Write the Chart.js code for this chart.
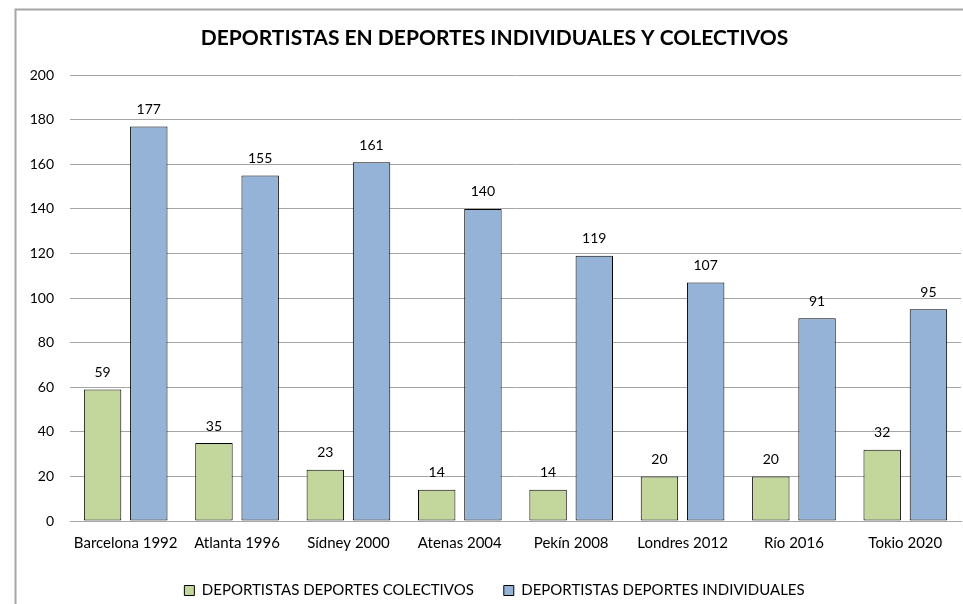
<!DOCTYPE html>
<html>
<head>
<meta charset="utf-8">
<script src="https://cdn.jsdelivr.net/npm/chart.js@4"></script>
<style>
  html, body { margin: 0; padding: 0; background: #fff; }
  #wrap { width: 963px; height: 604px; position: relative; }
</style>
</head>
<body>
<div id="wrap"><canvas id="chart" width="963" height="604"></canvas></div>
<script>
const categories = ['Barcelona 1992', 'Atlanta 1996', 'Sídney 2000', 'Atenas 2004', 'Pekín 2008', 'Londres 2012', 'Río 2016', 'Tokio 2020'];
const colectivos = [59, 35, 23, 14, 14, 20, 20, 32];
const individuales = [177, 155, 161, 140, 119, 107, 91, 95];
const yTicks = [0, 20, 40, 60, 80, 100, 120, 140, 160, 180, 200];

const FONT = 'Lato, sans-serif';

// gray frame around the chart (the excel chart box, cut at the right and bottom)
const frame = {
  id: 'frame',
  beforeDraw(chart) {
    const ctx = chart.ctx;
    ctx.save();
    ctx.fillStyle = '#fff';
    ctx.fillRect(0, 0, chart.width, chart.height);
    ctx.strokeStyle = '#a6a6a6';
    ctx.lineWidth = 2;
    ctx.strokeRect(15.5, 9.5, 1200, 800);
    ctx.restore();
  }
};

// value labels over every bar
const valueLabels = {
  id: 'valueLabels',
  afterDatasetsDraw(chart) {
    const ctx = chart.ctx;
    ctx.save();
    ctx.font = '14px ' + FONT;
    ctx.fillStyle = '#000';
    ctx.textAlign = 'center';
    ctx.textBaseline = 'middle';
    chart.data.datasets.forEach((ds, i) => {
      chart.getDatasetMeta(i).data.forEach((bar, j) => {
        ctx.fillText(ds.data[j], bar.x, bar.y - 17);
      });
    });
    ctx.restore();
  }
};

new Chart(document.getElementById('chart'), {
  type: 'bar',
  data: {
    labels: categories,
    datasets: [
      {
        label: 'DEPORTISTAS DEPORTES COLECTIVOS',
        data: colectivos,
        backgroundColor: '#c3d69b',
        borderColor: '#000',
        borderWidth: 1,
        borderSkipped: false
      },
      {
        label: 'DEPORTISTAS DEPORTES INDIVIDUALES',
        data: individuales,
        backgroundColor: '#95b3d7',
        borderColor: '#000',
        borderWidth: 1,
        borderSkipped: false
      }
    ]
  },
  options: {
    responsive: false,
    animation: false,
    devicePixelRatio: 1,
    categoryPercentage: 0.83,
    barPercentage: 0.81,
    layout: { padding: { left: 28, right: 2, top: 0, bottom: -4 } },
    plugins: {
      title: {
        display: true,
        text: 'DEPORTISTAS EN DEPORTES INDIVIDUALES Y COLECTIVOS',
        color: '#000',
        font: { family: FONT, size: 21, weight: 'bold' },
        padding: { top: 26, bottom: 24 }
      },
      legend: {
        position: 'bottom',
        labels: {
          color: '#000',
          font: { family: FONT, size: 15 },
          boxWidth: 10,
          boxHeight: 10,
          padding: 30
        }
      },
      tooltip: { enabled: false }
    },
    scales: {
      x: {
        grid: { display: false, drawTicks: false },
        border: { color: '#a6a6a6', width: 1 },
        ticks: { color: '#000', font: { family: FONT, size: 15 }, padding: 13, maxRotation: 0, autoSkip: false },
        afterFit(scale) { scale.height = 32; }
      },
      y: {
        min: 0,
        max: 200,
        afterBuildTicks(scale) { scale.ticks = yTicks.map(v => ({ value: v })); },
        grid: { color: '#a6a6a6', drawTicks: false },
        border: { display: false },
        ticks: { color: '#000', font: { family: FONT, size: 14 }, padding: 16 },
        afterFit(scale) { scale.width = 42; }
      }
    }
  },
  plugins: [frame, valueLabels]
});
</script>
</body>
</html>
